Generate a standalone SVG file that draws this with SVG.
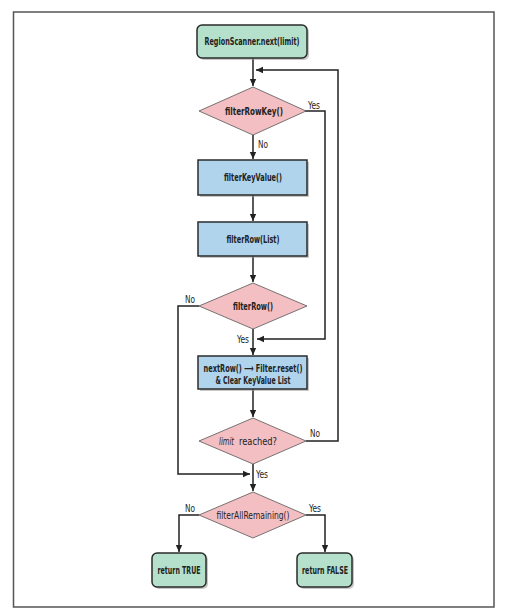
<svg xmlns="http://www.w3.org/2000/svg" width="509" height="610" viewBox="0 0 509 610">
<style>
.t{font-family:"Liberation Sans Narrow","DejaVu Sans Condensed","DejaVu Sans",sans-serif;font-stretch:condensed;font-size:11px;fill:#222;text-anchor:middle}
.b{font-weight:bold}
.s{text-anchor:start}
.l{font-family:"Liberation Sans Narrow","DejaVu Sans Condensed","DejaVu Sans",sans-serif;font-stretch:condensed;font-size:11px;fill:#222}
.term{fill:#b5e0cc;stroke:#2b2b2b;stroke-width:1.5}
.proc{fill:#b0d4ec;stroke:#2b2b2b;stroke-width:1.5}
.dec{fill:#f3bfc2;stroke:#555;stroke-width:0.8}
.sh{fill:#9a9a9a;opacity:0.55}
.c{fill:none;stroke:#222;stroke-width:1.5}
</style>
<defs>
<marker id="ah" markerUnits="userSpaceOnUse" markerWidth="8" markerHeight="8" viewBox="0 0 8 8" refX="7" refY="4" orient="auto">
<path d="M0,0.8 L7,4 L0,7.2 Z" fill="#222"/>
</marker>
</defs>
<rect x="0" y="0" width="509" height="610" fill="#fff"/>
<rect x="13.5" y="12" width="480.5" height="595" fill="#fff" stroke="#555" stroke-width="1.5"/>

<g id="connectors">
<path class="c" d="M253,58 V86" marker-end="url(#ah)"/>
<path class="c" d="M306,441 H338 V70 H256" marker-end="url(#ah)"/>
<path class="c" d="M305,111 H325 V339 H257" marker-end="url(#ah)"/>
<path class="c" d="M253,135 V159" marker-end="url(#ah)"/>
<path class="c" d="M253,195 V221" marker-end="url(#ah)"/>
<path class="c" d="M253,256 V282" marker-end="url(#ah)"/>
<path class="c" d="M253,329 V355" marker-end="url(#ah)"/>
<path class="c" d="M199,306 H178 V474 H250" marker-end="url(#ah)"/>
<path class="c" d="M253,389 V417" marker-end="url(#ah)"/>
<path class="c" d="M253,464 V491" marker-end="url(#ah)"/>
<path class="c" d="M199,515 H179 V552" marker-end="url(#ah)"/>
<path class="c" d="M306,515 H325 V552" marker-end="url(#ah)"/>
<text class="l" x="308" y="109" textLength="12" lengthAdjust="spacingAndGlyphs">Yes</text>
<text class="l" x="258" y="148" textLength="10" lengthAdjust="spacingAndGlyphs">No</text>
<text class="l" x="185" y="303" textLength="10" lengthAdjust="spacingAndGlyphs">No</text>
<text class="l" x="237" y="343" textLength="12" lengthAdjust="spacingAndGlyphs">Yes</text>
<text class="l" x="310" y="437" textLength="10" lengthAdjust="spacingAndGlyphs">No</text>
<text class="l" x="256" y="478" textLength="12" lengthAdjust="spacingAndGlyphs">Yes</text>
<text class="l" x="185" y="512" textLength="10" lengthAdjust="spacingAndGlyphs">No</text>
<text class="l" x="309" y="512" textLength="12" lengthAdjust="spacingAndGlyphs">Yes</text>
</g>

<g id="start">
<rect class="sh" x="199" y="27" width="110" height="33" rx="5"/>
<rect class="term" x="197" y="25" width="110" height="33" rx="5"/>
<text class="t b" x="252" y="45" textLength="95" lengthAdjust="spacingAndGlyphs">RegionScanner.next(limit)</text>
</g>

<g id="filterRowKey">
<path class="dec" d="M253,87 L306,111 L253,135 L199,111 Z"/>
<text class="t b" x="254" y="115" textLength="58" lengthAdjust="spacingAndGlyphs">filterRowKey()</text>
</g>

<g id="filterKeyValue">
<rect class="sh" x="200" y="162" width="109" height="35"/>
<rect class="proc" x="198" y="160" width="109" height="35"/>
<text class="t b" x="253" y="181" textLength="58" lengthAdjust="spacingAndGlyphs">filterKeyValue()</text>
</g>

<g id="filterRowList">
<rect class="sh" x="200" y="224" width="109" height="34"/>
<rect class="proc" x="198" y="222" width="109" height="34"/>
<text class="t b" x="253" y="243" textLength="53" lengthAdjust="spacingAndGlyphs">filterRow(List)</text>
</g>

<g id="filterRow">
<path class="dec" d="M253,283 L307,306 L253,329 L199,306 Z"/>
<text class="t b" x="253" y="310" textLength="40" lengthAdjust="spacingAndGlyphs">filterRow()</text>
</g>

<g id="nextRow">
<rect class="sh" x="200" y="358" width="109" height="33"/>
<rect class="proc" x="198" y="356" width="109" height="33"/>
<text class="t b" x="253" y="372" textLength="99" lengthAdjust="spacingAndGlyphs">nextRow() ⟶ Filter.reset()</text>
<text class="t b" x="253" y="384" textLength="75" lengthAdjust="spacingAndGlyphs">&amp; Clear KeyValue List</text>
</g>

<g id="limitReached">
<path class="dec" d="M253,418 L306,441 L253,464 L199,441 Z"/>
<text class="t s" x="219" y="445" font-style="italic" textLength="15" lengthAdjust="spacingAndGlyphs">limit</text>
<text class="t s" x="239" y="445" textLength="38" lengthAdjust="spacingAndGlyphs">reached?</text>
</g>

<g id="filterAllRemaining">
<path class="dec" d="M253,492 L306,515 L253,538 L199,515 Z"/>
<text class="t" x="253" y="519" textLength="73" lengthAdjust="spacingAndGlyphs">filterAllRemaining()</text>
</g>

<g id="returnTrue">
<rect class="sh" x="154" y="555" width="54" height="34" rx="5"/>
<rect class="term" x="152" y="553" width="54" height="34" rx="5"/>
<text class="t b" x="179" y="574" textLength="43" lengthAdjust="spacingAndGlyphs">return TRUE</text>
</g>

<g id="returnFalse">
<rect class="sh" x="299" y="555" width="55" height="34" rx="5"/>
<rect class="term" x="297" y="553" width="55" height="34" rx="5"/>
<text class="t b" x="325" y="574" textLength="46" lengthAdjust="spacingAndGlyphs">return FALSE</text>
</g>
</svg>
